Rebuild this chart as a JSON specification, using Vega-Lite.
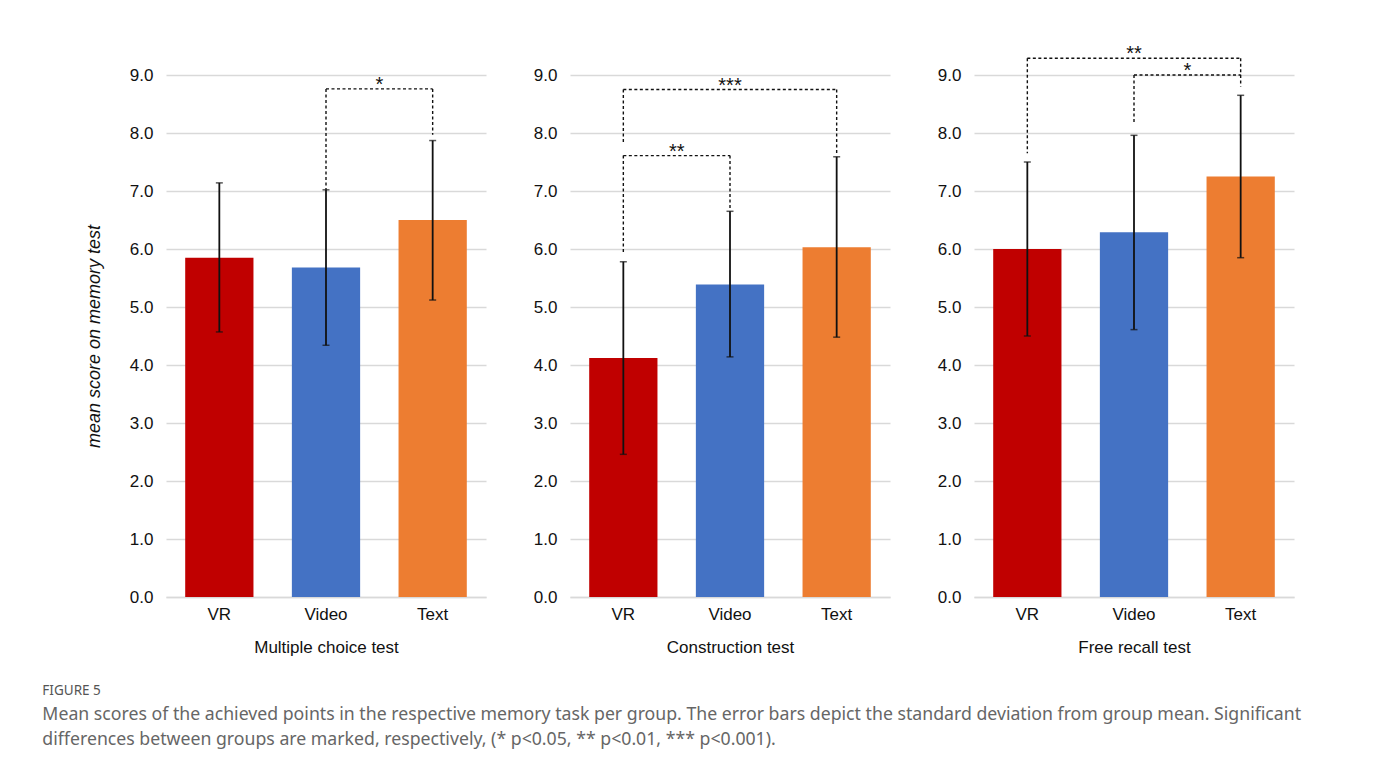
{
  "$schema": "https://vega.github.io/schema/vega-lite/v6.json",
  "background": "white",
  "padding": {"left": 42, "top": 44, "right": 10, "bottom": 20},
  "bounds": "flush",
  "spacing": 84,
  "config": {
    "font": "Liberation Sans",
    "view": {"stroke": null},
    "axis": {
      "labelFont": "Liberation Sans",
      "titleFont": "Liberation Sans",
      "labelColor": "#111111",
      "titleColor": "#111111",
      "labelFontSize": 17,
      "titleFontSize": 17,
      "titleFontWeight": "normal",
      "gridColor": "#d9d9d9",
      "gridWidth": 1.3,
      "domainColor": "#d9d9d9",
      "domainWidth": 1.3,
      "ticks": false
    }
  },
  "title": {
    "text": "FIGURE 5",
    "subtitle": [
      "Mean scores of the achieved points in the respective memory task per group. The error bars depict the standard deviation from group mean. Significant",
      "differences between groups are marked, respectively, (* p<0.05, ** p<0.01, *** p<0.001)."
    ],
    "orient": "bottom",
    "anchor": "start",
    "frame": "bounds",
    "font": "Noto Sans",
    "fontSize": 13.5,
    "fontWeight": "normal",
    "color": "#555555",
    "subtitleFont": "Noto Sans",
    "subtitleFontSize": 17.7,
    "subtitleColor": "#666666",
    "subtitleLineHeight": 25,
    "subtitlePadding": 8,
    "offset": 29,
    "dx": -43
  },
  "datasets": {
    "bars": [
      {"test": "Multiple choice test", "group": "VR", "mean": 5.85, "lo": 4.57, "hi": 7.14},
      {"test": "Multiple choice test", "group": "Video", "mean": 5.68, "lo": 4.34, "hi": 7.02},
      {"test": "Multiple choice test", "group": "Text", "mean": 6.5, "lo": 5.12, "hi": 7.87},
      {"test": "Construction test", "group": "VR", "mean": 4.12, "lo": 2.46, "hi": 5.78},
      {"test": "Construction test", "group": "Video", "mean": 5.39, "lo": 4.14, "hi": 6.65},
      {"test": "Construction test", "group": "Text", "mean": 6.03, "lo": 4.48, "hi": 7.59},
      {"test": "Free recall test", "group": "VR", "mean": 6.0, "lo": 4.5, "hi": 7.5},
      {"test": "Free recall test", "group": "Video", "mean": 6.29, "lo": 4.61, "hi": 7.96},
      {"test": "Free recall test", "group": "Text", "mean": 7.25, "lo": 5.85, "hi": 8.65}
    ],
    "brackets": [
      {"test": "Multiple choice test", "a": "Video", "b": "Text", "top": 8.76, "legA": 7.02, "legB": 7.97, "label": "*", "mid": "Video", "edge": true},
      {"test": "Construction test", "a": "VR", "b": "Video", "top": 7.61, "legA": 5.95, "legB": 6.67, "label": "**", "mid": "VR", "edge": true},
      {"test": "Construction test", "a": "VR", "b": "Text", "top": 8.75, "legA": 7.82, "legB": 7.61, "label": "***", "mid": "Video", "edge": false},
      {"test": "Free recall test", "a": "VR", "b": "Text", "top": 9.29, "legA": 7.65, "legB": 9.0, "label": "**", "mid": "Video", "edge": false},
      {"test": "Free recall test", "a": "Video", "b": "Text", "top": 9.0, "legA": 8.15, "legB": 8.8, "label": "*", "mid": "Video", "edge": true}
    ]
  },
  "hconcat": [
    {
      "width": 320,
      "height": 522,
      "layer": [
        {
          "data": {"name": "bars"},
          "transform": [{"filter": "datum.test === 'Multiple choice test'"}],
          "mark": {"type": "bar", "width": {"band": 0.64}},
          "encoding": {
            "x": {"field": "group", "type": "nominal", "scale": {"domain": ["VR", "Video", "Text"], "paddingInner": 0, "paddingOuter": 0}, "axis": {"title": "Multiple choice test", "labelAngle": 0, "labelPadding": 9, "titlePadding": 17, "grid": false}},
            "y": {"field": "mean", "type": "quantitative", "scale": {"domain": [0, 9], "nice": false}, "title": "mean score on memory test", "axis": {"values": [0, 1, 2, 3, 4, 5, 6, 7, 8, 9], "format": ".1f", "domain": false, "grid": true, "labelPadding": 13, "titlePadding": 26, "titleFontStyle": "italic", "titleFontSize": 18}},
            "color": {"field": "group", "type": "nominal", "scale": {"domain": ["VR", "Video", "Text"], "range": ["#C00000", "#4472C4", "#ED7D31"]}, "legend": null}
          }
        },
        {
          "data": {"name": "bars"},
          "transform": [{"filter": "datum.test === 'Multiple choice test'"}],
          "mark": {"type": "rule", "color": "#111111", "strokeWidth": 1.8},
          "encoding": {
            "x": {"field": "group", "type": "nominal"},
            "y": {"field": "lo", "type": "quantitative", "title": "mean score on memory test"},
            "y2": {"field": "hi"}
          }
        },
        {
          "data": {"name": "bars"},
          "transform": [{"filter": "datum.test === 'Multiple choice test'"}],
          "mark": {"type": "tick", "color": "#111111", "size": 7, "thickness": 1.5},
          "encoding": {
            "x": {"field": "group", "type": "nominal"},
            "y": {"field": "lo", "type": "quantitative", "title": "mean score on memory test"}
          }
        },
        {
          "data": {"name": "bars"},
          "transform": [{"filter": "datum.test === 'Multiple choice test'"}],
          "mark": {"type": "tick", "color": "#111111", "size": 7, "thickness": 1.5},
          "encoding": {
            "x": {"field": "group", "type": "nominal"},
            "y": {"field": "hi", "type": "quantitative", "title": "mean score on memory test"}
          }
        },
        {
          "data": {"name": "brackets"},
          "transform": [{"filter": "datum.test === 'Multiple choice test'"}],
          "mark": {"type": "rule", "color": "#111111", "strokeWidth": 1.4, "strokeDash": [3, 2.5]},
          "encoding": {
            "x": {"field": "a", "type": "nominal"},
            "x2": {"field": "b"},
            "y": {"field": "top", "type": "quantitative", "title": "mean score on memory test"}
          }
        },
        {
          "data": {"name": "brackets"},
          "transform": [{"filter": "datum.test === 'Multiple choice test'"}],
          "mark": {"type": "rule", "color": "#111111", "strokeWidth": 1.4, "strokeDash": [3, 2.5]},
          "encoding": {
            "x": {"field": "a", "type": "nominal"},
            "y": {"field": "top", "type": "quantitative", "title": "mean score on memory test"},
            "y2": {"field": "legA"}
          }
        },
        {
          "data": {"name": "brackets"},
          "transform": [{"filter": "datum.test === 'Multiple choice test'"}],
          "mark": {"type": "rule", "color": "#111111", "strokeWidth": 1.4, "strokeDash": [3, 2.5]},
          "encoding": {
            "x": {"field": "b", "type": "nominal"},
            "y": {"field": "top", "type": "quantitative", "title": "mean score on memory test"},
            "y2": {"field": "legB"}
          }
        },
        {
          "data": {"name": "brackets"},
          "transform": [{"filter": "datum.test === 'Multiple choice test' && datum.edge"}],
          "mark": {"type": "text", "fontSize": 20, "baseline": "alphabetic", "dy": 2, "color": "#111111"},
          "encoding": {
            "x": {"field": "mid", "type": "nominal", "bandPosition": 1},
            "y": {"field": "top", "type": "quantitative", "title": "mean score on memory test"},
            "text": {"field": "label"}
          }
        }
      ]
    },
    {
      "width": 320,
      "height": 522,
      "layer": [
        {
          "data": {"name": "bars"},
          "transform": [{"filter": "datum.test === 'Construction test'"}],
          "mark": {"type": "bar", "width": {"band": 0.64}},
          "encoding": {
            "x": {"field": "group", "type": "nominal", "scale": {"domain": ["VR", "Video", "Text"], "paddingInner": 0, "paddingOuter": 0}, "axis": {"title": "Construction test", "labelAngle": 0, "labelPadding": 9, "titlePadding": 17, "grid": false}},
            "y": {"field": "mean", "type": "quantitative", "scale": {"domain": [0, 9], "nice": false}, "title": null, "axis": {"values": [0, 1, 2, 3, 4, 5, 6, 7, 8, 9], "format": ".1f", "domain": false, "grid": true, "labelPadding": 13}},
            "color": {"field": "group", "type": "nominal", "scale": {"domain": ["VR", "Video", "Text"], "range": ["#C00000", "#4472C4", "#ED7D31"]}, "legend": null}
          }
        },
        {
          "data": {"name": "bars"},
          "transform": [{"filter": "datum.test === 'Construction test'"}],
          "mark": {"type": "rule", "color": "#111111", "strokeWidth": 1.8},
          "encoding": {
            "x": {"field": "group", "type": "nominal"},
            "y": {"field": "lo", "type": "quantitative", "title": null},
            "y2": {"field": "hi"}
          }
        },
        {
          "data": {"name": "bars"},
          "transform": [{"filter": "datum.test === 'Construction test'"}],
          "mark": {"type": "tick", "color": "#111111", "size": 7, "thickness": 1.5},
          "encoding": {
            "x": {"field": "group", "type": "nominal"},
            "y": {"field": "lo", "type": "quantitative", "title": null}
          }
        },
        {
          "data": {"name": "bars"},
          "transform": [{"filter": "datum.test === 'Construction test'"}],
          "mark": {"type": "tick", "color": "#111111", "size": 7, "thickness": 1.5},
          "encoding": {
            "x": {"field": "group", "type": "nominal"},
            "y": {"field": "hi", "type": "quantitative", "title": null}
          }
        },
        {
          "data": {"name": "brackets"},
          "transform": [{"filter": "datum.test === 'Construction test'"}],
          "mark": {"type": "rule", "color": "#111111", "strokeWidth": 1.4, "strokeDash": [3, 2.5]},
          "encoding": {
            "x": {"field": "a", "type": "nominal"},
            "x2": {"field": "b"},
            "y": {"field": "top", "type": "quantitative", "title": null}
          }
        },
        {
          "data": {"name": "brackets"},
          "transform": [{"filter": "datum.test === 'Construction test'"}],
          "mark": {"type": "rule", "color": "#111111", "strokeWidth": 1.4, "strokeDash": [3, 2.5]},
          "encoding": {
            "x": {"field": "a", "type": "nominal"},
            "y": {"field": "top", "type": "quantitative", "title": null},
            "y2": {"field": "legA"}
          }
        },
        {
          "data": {"name": "brackets"},
          "transform": [{"filter": "datum.test === 'Construction test'"}],
          "mark": {"type": "rule", "color": "#111111", "strokeWidth": 1.4, "strokeDash": [3, 2.5]},
          "encoding": {
            "x": {"field": "b", "type": "nominal"},
            "y": {"field": "top", "type": "quantitative", "title": null},
            "y2": {"field": "legB"}
          }
        },
        {
          "data": {"name": "brackets"},
          "transform": [{"filter": "datum.test === 'Construction test' && datum.edge"}],
          "mark": {"type": "text", "fontSize": 20, "baseline": "alphabetic", "dy": 2, "color": "#111111"},
          "encoding": {
            "x": {"field": "mid", "type": "nominal", "bandPosition": 1},
            "y": {"field": "top", "type": "quantitative", "title": null},
            "text": {"field": "label"}
          }
        },
        {
          "data": {"name": "brackets"},
          "transform": [{"filter": "datum.test === 'Construction test' && !datum.edge"}],
          "mark": {"type": "text", "fontSize": 20, "baseline": "alphabetic", "dy": 2, "color": "#111111"},
          "encoding": {
            "x": {"field": "mid", "type": "nominal", "bandPosition": 0.5},
            "y": {"field": "top", "type": "quantitative", "title": null},
            "text": {"field": "label"}
          }
        }
      ]
    },
    {
      "width": 320,
      "height": 522,
      "layer": [
        {
          "data": {"name": "bars"},
          "transform": [{"filter": "datum.test === 'Free recall test'"}],
          "mark": {"type": "bar", "width": {"band": 0.64}},
          "encoding": {
            "x": {"field": "group", "type": "nominal", "scale": {"domain": ["VR", "Video", "Text"], "paddingInner": 0, "paddingOuter": 0}, "axis": {"title": "Free recall test", "labelAngle": 0, "labelPadding": 9, "titlePadding": 17, "grid": false}},
            "y": {"field": "mean", "type": "quantitative", "scale": {"domain": [0, 9], "nice": false}, "title": null, "axis": {"values": [0, 1, 2, 3, 4, 5, 6, 7, 8, 9], "format": ".1f", "domain": false, "grid": true, "labelPadding": 13}},
            "color": {"field": "group", "type": "nominal", "scale": {"domain": ["VR", "Video", "Text"], "range": ["#C00000", "#4472C4", "#ED7D31"]}, "legend": null}
          }
        },
        {
          "data": {"name": "bars"},
          "transform": [{"filter": "datum.test === 'Free recall test'"}],
          "mark": {"type": "rule", "color": "#111111", "strokeWidth": 1.8},
          "encoding": {
            "x": {"field": "group", "type": "nominal"},
            "y": {"field": "lo", "type": "quantitative", "title": null},
            "y2": {"field": "hi"}
          }
        },
        {
          "data": {"name": "bars"},
          "transform": [{"filter": "datum.test === 'Free recall test'"}],
          "mark": {"type": "tick", "color": "#111111", "size": 7, "thickness": 1.5},
          "encoding": {
            "x": {"field": "group", "type": "nominal"},
            "y": {"field": "lo", "type": "quantitative", "title": null}
          }
        },
        {
          "data": {"name": "bars"},
          "transform": [{"filter": "datum.test === 'Free recall test'"}],
          "mark": {"type": "tick", "color": "#111111", "size": 7, "thickness": 1.5},
          "encoding": {
            "x": {"field": "group", "type": "nominal"},
            "y": {"field": "hi", "type": "quantitative", "title": null}
          }
        },
        {
          "data": {"name": "brackets"},
          "transform": [{"filter": "datum.test === 'Free recall test'"}],
          "mark": {"type": "rule", "color": "#111111", "strokeWidth": 1.4, "strokeDash": [3, 2.5]},
          "encoding": {
            "x": {"field": "a", "type": "nominal"},
            "x2": {"field": "b"},
            "y": {"field": "top", "type": "quantitative", "title": null}
          }
        },
        {
          "data": {"name": "brackets"},
          "transform": [{"filter": "datum.test === 'Free recall test'"}],
          "mark": {"type": "rule", "color": "#111111", "strokeWidth": 1.4, "strokeDash": [3, 2.5]},
          "encoding": {
            "x": {"field": "a", "type": "nominal"},
            "y": {"field": "top", "type": "quantitative", "title": null},
            "y2": {"field": "legA"}
          }
        },
        {
          "data": {"name": "brackets"},
          "transform": [{"filter": "datum.test === 'Free recall test'"}],
          "mark": {"type": "rule", "color": "#111111", "strokeWidth": 1.4, "strokeDash": [3, 2.5]},
          "encoding": {
            "x": {"field": "b", "type": "nominal"},
            "y": {"field": "top", "type": "quantitative", "title": null},
            "y2": {"field": "legB"}
          }
        },
        {
          "data": {"name": "brackets"},
          "transform": [{"filter": "datum.test === 'Free recall test' && datum.edge"}],
          "mark": {"type": "text", "fontSize": 20, "baseline": "alphabetic", "dy": 2, "color": "#111111"},
          "encoding": {
            "x": {"field": "mid", "type": "nominal", "bandPosition": 1},
            "y": {"field": "top", "type": "quantitative", "title": null},
            "text": {"field": "label"}
          }
        },
        {
          "data": {"name": "brackets"},
          "transform": [{"filter": "datum.test === 'Free recall test' && !datum.edge"}],
          "mark": {"type": "text", "fontSize": 20, "baseline": "alphabetic", "dy": 2, "color": "#111111"},
          "encoding": {
            "x": {"field": "mid", "type": "nominal", "bandPosition": 0.5},
            "y": {"field": "top", "type": "quantitative", "title": null},
            "text": {"field": "label"}
          }
        }
      ]
    }
  ]
}
